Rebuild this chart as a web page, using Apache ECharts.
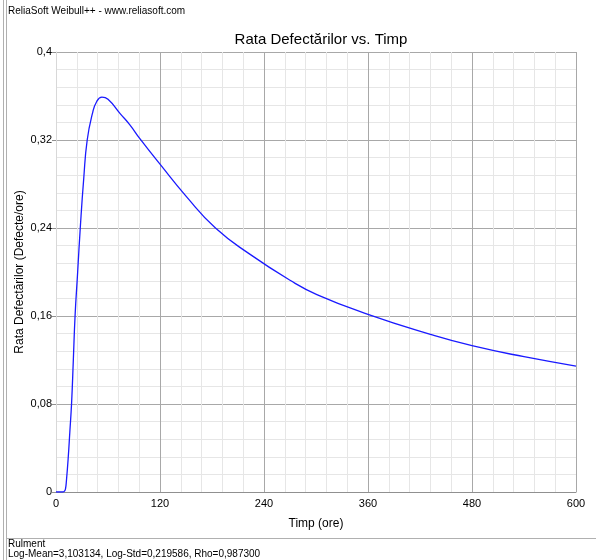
<!DOCTYPE html>
<html>
<head>
<meta charset="utf-8">
<script src="https://cdn.jsdelivr.net/npm/echarts@6/dist/echarts.min.js"></script>
<style>
  html, body { margin: 0; padding: 0; background: #fff; }
  #chart { width: 596px; height: 560px; }
</style>
</head>
<body>
<div id="chart"></div>
<script>
// timp (ore) si rata defectarilor
const timp = [0, 8, 10, 11, 12, 14, 16, 18, 20, 22, 25, 28, 32, 36, 42, 47, 53, 60, 74, 85, 97, 120, 150, 184, 224, 270, 301, 360, 432, 480, 540, 600];
const rata = [0, 0, 0.001, 0.003, 0.01, 0.03, 0.055, 0.081, 0.12, 0.16, 0.2, 0.24, 0.285, 0.32, 0.344, 0.355, 0.359, 0.357, 0.344, 0.334, 0.321, 0.298, 0.269, 0.24, 0.216, 0.1925, 0.1795, 0.1615, 0.1433, 0.133, 0.123, 0.1145];

const titlu = "Rata Defectărilor vs. Timp";
const antet = "ReliaSoft Weibull++ - www.reliasoft.com";
const subsol = ["Rulment", "Log-Mean=3,103134, Log-Std=0,219586, Rho=0,987300"];

const fmt = (v) => String(+v.toFixed(4)).replace(".", ",");

const chart = echarts.init(document.getElementById("chart"));
chart.setOption({
  animation: false,
  textStyle: { fontFamily: "Liberation Sans" },
  title: {
    text: titlu,
    left: 316,
    textAlign: "center",
    top: 27,
    textStyle: { fontSize: 15, fontWeight: "normal", color: "#000" },
  },
  grid: { left: 56, right: 20, top: 52, bottom: 68 },
  xAxis: {
    type: "value",
    min: 0,
    max: 600,
    interval: 120,
    name: "Timp (ore)",
    nameLocation: "middle",
    nameGap: 26,
    nameTextStyle: { fontSize: 12, color: "#000" },
    axisLine: { lineStyle: { color: "#909090" } },
    axisTick: { show: false },
    axisLabel: { color: "#000", fontSize: 11, margin: 6, formatter: fmt },
    splitLine: { show: true, lineStyle: { color: "#a8a8a8" } },
    minorTick: { show: false, splitNumber: 5 },
    minorSplitLine: { show: true, lineStyle: { color: "#e6e6e6" } },
  },
  yAxis: {
    type: "value",
    min: 0,
    max: 0.4,
    interval: 0.08,
    name: "Rata Defectărilor (Defecte/ore)",
    nameLocation: "middle",
    nameGap: 30,
    nameMoveOverlap: false,
    nameTextStyle: { fontSize: 12, color: "#000" },
    axisLine: { show: true, lineStyle: { color: "#d8d8d8" } },
    axisTick: { show: true, length: 4, lineStyle: { color: "#909090" } },
    axisLabel: { color: "#000", fontSize: 11, margin: 4, formatter: fmt },
    splitLine: { show: true, lineStyle: { color: "#a8a8a8" } },
    minorTick: { show: false, splitNumber: 5 },
    minorSplitLine: { show: true, lineStyle: { color: "#e6e6e6" } },
  },
  series: [
    {
      type: "line",
      data: timp.map((t, i) => [t, rata[i]]),
      smooth: 0.5,
      showSymbol: false,
      lineStyle: { color: "#1a1aff", width: 1.3 },
    },
  ],
  graphic: [
    { type: "line", shape: { x1: 3.5, y1: 0, x2: 3.5, y2: 560 }, style: { stroke: "#b0b0b0", lineWidth: 1 } },
    { type: "line", shape: { x1: 6.5, y1: 0, x2: 6.5, y2: 560 }, style: { stroke: "#b0b0b0", lineWidth: 1 } },
    { type: "line", shape: { x1: 6, y1: 538.5, x2: 596, y2: 538.5 }, style: { stroke: "#b0b0b0", lineWidth: 1 } },
    { type: "text", left: 8, top: 6, style: { text: antet, fontSize: 10, fill: "#000", fontFamily: "Liberation Sans" } },
    { type: "text", left: 8, top: 539, style: { text: subsol[0], fontSize: 10, fill: "#000", fontFamily: "Liberation Sans" } },
    { type: "text", left: 8, top: 549, style: { text: subsol[1], fontSize: 10, fill: "#000", fontFamily: "Liberation Sans" } },
  ],
});
</script>
</body>
</html>
